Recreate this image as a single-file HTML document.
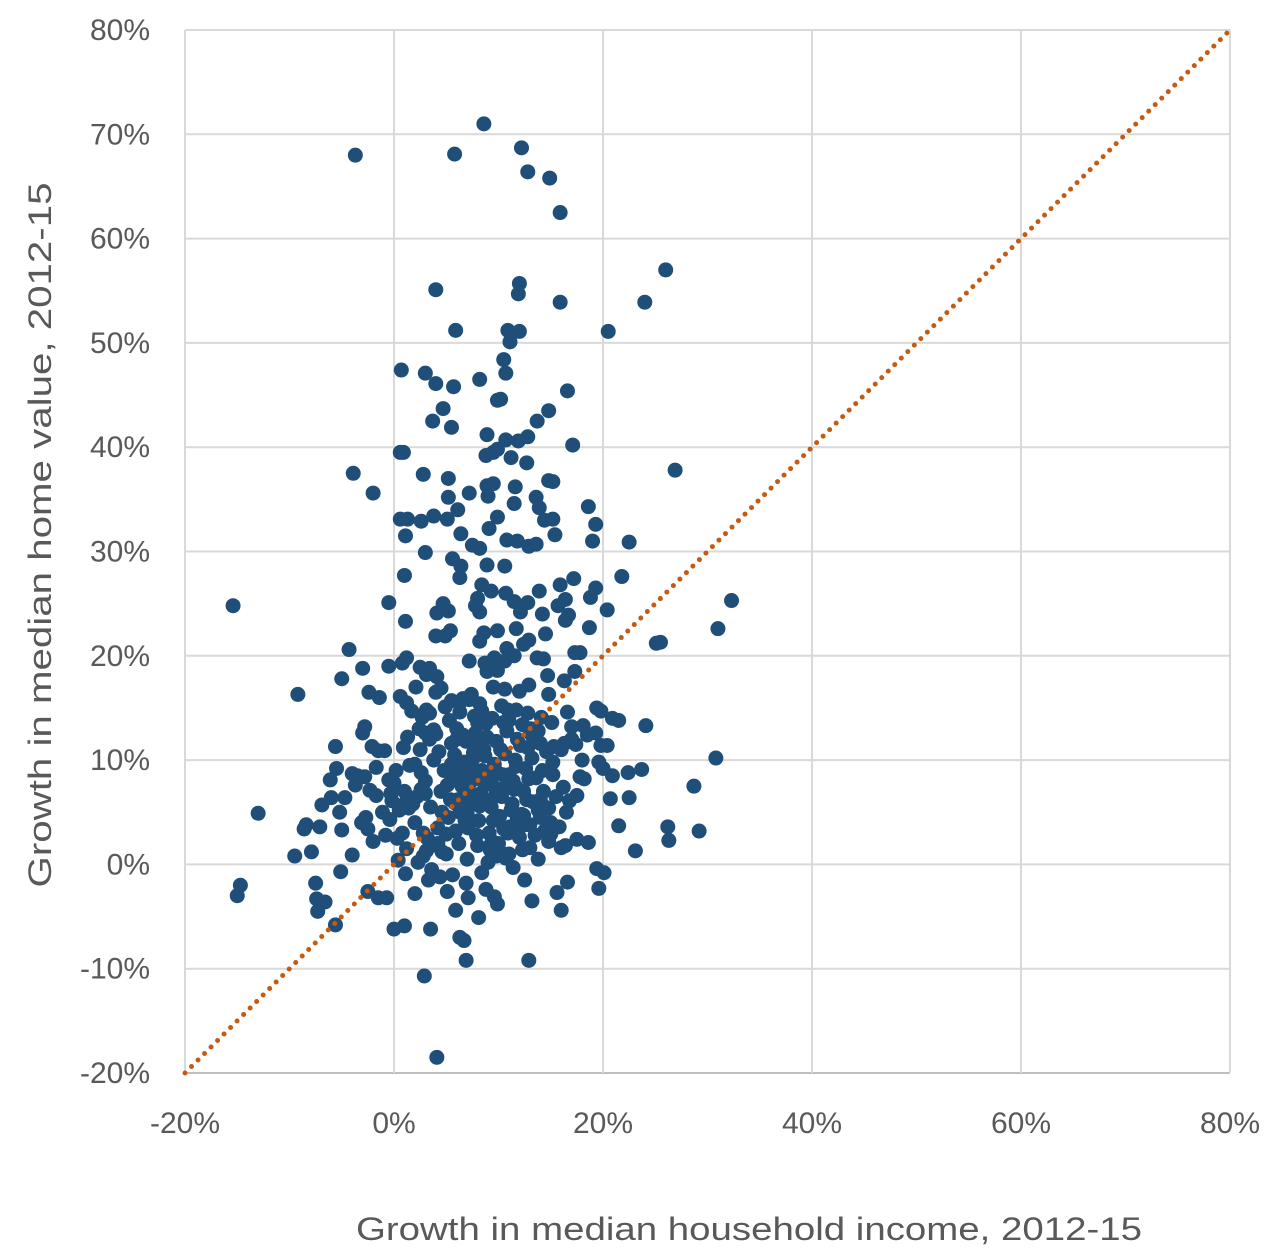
<!DOCTYPE html>
<html><head><meta charset="utf-8">
<style>
html,body{margin:0;padding:0;background:#fff;}
svg{display:block;font-family:"Liberation Sans",sans-serif;}
</style></head>
<body>
<svg id="chart" width="1273" height="1249" viewBox="0 0 1273 1249" xmlns="http://www.w3.org/2000/svg">
<g id="grid"></g>
<g id="ticks"></g>
<g id="pts"></g>
<g id="diag"></g>
<text x="749" y="1240" text-anchor="middle" font-size="32" fill="#595959" textLength="786" lengthAdjust="spacingAndGlyphs">Growth in median household income, 2012-15</text>
<text transform="translate(51,535) rotate(-90)" text-anchor="middle" font-size="32" fill="#595959" textLength="705" lengthAdjust="spacingAndGlyphs">Growth in median home value, 2012-15</text>
</svg>
<script>
const xTicks=[-20,0,20,40,60,80];
const yTicks=[-20,-10,0,10,20,30,40,50,60,70,80];
const xVals=[-3.7,5.8,8.6,12.2,12.8,14.9,15.9,26.0,12.0,11.9,4.0,15.9,24.0,20.5,5.9,10.9,12.0,11.1,10.5,0.7,3.0,10.7,8.2,4.0,5.7,16.6,9.9,10.2,4.7,14.8,3.7,5.5,13.7,8.9,12.8,10.7,11.9,17.1,9.9,0.6,0.9,8.8,9.5,11.2,12.7,26.9,-3.9,2.8,5.2,14.8,15.2,8.9,9.5,11.6,-2.0,5.2,7.2,9.0,13.6,11.5,13.9,18.6,6.1,1.3,0.6,2.6,3.8,5.1,9.9,14.4,15.2,19.3,1.1,6.4,9.1,10.8,11.8,13.6,15.4,22.5,3.0,7.5,8.2,12.9,19.0,5.6,6.4,8.9,10.6,1.0,6.3,21.8,8.4,9.3,10.7,17.2,15.9,19.3,13.9,16.4,8.0,12.8,15.7,18.8,20.4,-0.5,4.7,7.8,11.5,32.3,-15.4,16.4,8.2,5.2,4.1,14.2,16.7,12.1,1.1,11.7,18.7,31.0,5.4,8.6,9.9,14.5,4.0,25.5,25.1,4.9,8.2,10.8,12.4,12.9,-4.3,1.2,7.2,8.7,9.6,10.6,11.5,13.7,17.3,17.8,14.3,-3.0,-0.5,0.8,2.5,3.4,3.1,4.1,8.9,9.9,14.7,17.3,16.3,-9.2,-5.0,-2.4,-1.4,0.6,2.1,4.0,4.5,7.4,7.2,6.6,5.5,9.5,10.6,12.0,12.9,14.8,1.2,1.7,3.4,2.7,4.9,6.3,8.4,19.4,19.8,10.9,11.7,12.8,14.1,15.1,16.6,20.9,24.1,17.0,18.1,19.3,-2.8,-3.0,13.8,
-13.0,-14.7,-15.0,-9.5,-7.9,-8.4,-8.6,-7.1,-7.5,-7.4,-7.3,-6.6,-5.6,-5.1,-4.0,-1.5,-2.5,0,1.0,-0.7,3.5,2.9,4.1,6.7,6.3,6.9,12.9,8.1,9.6,9.9,8.8,12.5,13.2,15.6,16.0,16.6,19.4,19.6,20.1,18.6,21.5,22.5,23.7,22.4,26.2,26.3,28.7,29.2,30.8,16.4,14.8,14.0,15.0,16.8,17.8,18.2,20.0,19.6,20.7,20.9,20.4,23.1,5.9,4.4,5.1,7.1,2.0,1.1,0.4,2.3,3.1,3.3,2.8,-2.7,-2.0,-5.0,-5.2,-4.7,-5.6,-5.5,-6.1,-6.9,-6.0,-3.7,-4.0,-1.7,-3.5,-2.3,-1.5,-0.9,-2.1,-0.5,-0.2,-0.3,-1.1,-2.5,-3.1,
0.5,1.0,1.5,2.0,2.2,2.5,3.0,3.2,3.5,3.8,4.0,4.2,4.5,4.8,5.0,5.2,5.4,5.6,5.8,6.0,6.2,6.3,6.5,6.7,6.9,7.0,7.1,7.3,7.4,7.6,7.8,8.0,8.1,8.3,8.4,8.6,8.8,9.0,9.1,9.3,9.4,9.6,9.8,10.0,10.1,10.3,10.4,10.6,10.8,11.0,11.1,11.3,11.4,11.6,11.8,12.0,12.2,12.4,12.6,12.8,13.0,13.3,13.6,14.0,14.3,14.6,15.0,15.5,16.0,16.5,17.0,
0.8,1.8,2.6,3.4,4.1,4.6,5.1,5.5,5.9,6.1,6.4,6.6,6.8,7.2,7.5,7.7,7.9,8.2,8.5,8.7,8.9,9.2,9.5,9.7,9.9,10.2,10.5,10.7,10.9,11.2,11.5,11.7,12.1,12.3,12.5,12.7,12.9,13.2,13.5,13.8,14.2,14.8,15.2,15.8,16.2,17.5,18.0,1.2,2.8,3.6,5.6,6.9,8.4,9.8,11.4,13.8,14.4,0.2,1.3,2.4,3.1,5.3,6.3,8.2,9.4,10.3,11.0,12.3,13.2,14.0,15.3,16.3,17.4,18.5,19.8,21.5,-0.8,0.3,-0.4,0.9,-1.7,-2.8,0.0,1.0,
2.0,3.0,4.3,5.0,6.0,7.0,8.0,9.0,10.0,11.0,12.0,13.0,4.6,5.8,7.0,8.3,9.4,10.6,11.8,13.1,6.3,7.6,8.8,10.0,11.2,12.4,3.0,4.2,5.5,6.7,8.0,9.2,10.5,11.7,13.0,14.3,1.4,2.6,3.8,15.2,16.0,17.5];
const yVals=[68.0,68.1,71.0,68.7,66.4,65.8,62.5,57.0,55.7,54.7,55.1,53.9,53.9,51.1,51.2,51.2,51.1,50.1,48.4,47.4,47.1,47.1,46.5,46.1,45.8,45.4,44.5,44.6,43.7,43.5,42.5,41.9,42.5,41.2,41.0,40.7,40.6,40.2,39.8,39.5,39.5,39.2,39.5,39.0,38.5,37.8,37.5,37.4,37.0,36.8,36.7,36.3,36.5,36.2,35.6,35.2,35.6,35.3,35.2,34.6,34.2,34.3,34.0,33.1,33.1,32.9,33.4,33.1,33.3,33.0,33.1,32.6,31.5,31.7,32.2,31.1,31.0,30.7,31.6,30.9,29.9,30.6,30.3,30.5,31.0,29.3,28.6,28.7,28.6,27.7,27.5,27.6,26.8,26.2,26.0,27.4,26.8,26.5,26.2,25.4,25.5,25.1,24.8,25.6,24.4,25.1,25.0,24.8,25.2,25.3,24.8,23.4,24.2,24.3,24.1,24.0,23.9,24.2,23.3,22.6,22.7,22.6,22.4,22.2,22.4,22.1,21.9,21.3,21.2,21.9,21.4,20.7,21.1,21.5,20.6,19.8,19.5,19.3,19.8,19.5,20.0,19.8,20.3,20.3,19.7,18.8,19.0,19.3,18.9,18.8,18.2,18.0,18.5,18.6,18.1,18.5,17.6,16.3,17.8,16.5,16.0,16.1,17.0,16.5,16.9,16.3,15.8,15.9,15.7,17.0,16.8,16.6,17.2,16.3,15.5,14.7,14.5,14.1,15.1,15.5,14.7,15.0,14.7,14.8,14.8,14.5,14.1,13.6,14.6,14.0,13.3,13.2,13.3,12.6,13.2,12.6,12.8,
4.9,-2.0,-3.0,0.8,1.2,3.8,3.4,3.6,-1.8,-3.3,-4.5,-3.6,-5.8,-0.7,0.9,-3.2,-2.6,-6.2,-5.9,-3.2,-6.2,-10.7,-18.5,-7.3,-7.0,-9.2,-9.2,-5.1,-3.1,-3.8,-2.4,-1.5,-3.5,-2.7,-4.4,-1.7,-0.4,-2.3,-0.8,2.1,3.7,6.4,9.1,8.8,3.6,2.3,7.5,3.2,10.2,1.8,5.4,6.2,2.9,6.1,8.4,8.2,9.2,9.8,6.3,8.5,11.4,1.3,-4.4,-1.2,-2.6,-3.2,-2.8,-0.9,0.4,0.2,1.3,-1.5,3.0,4.5,2.2,3.3,5.0,6.4,11.3,9.2,8.1,5.7,6.4,7.6,8.7,9.3,8.5,7.1,10.9,10.9,11.3,8.1,6.1,6.8,5.0,3.4,4.0,
5.2,7.0,9.5,4.0,6.5,11.0,8.0,2.5,5.5,10.0,12.5,3.5,7.0,9.0,1.0,4.5,6.2,8.4,10.5,13.0,2.0,5.0,7.5,9.8,11.8,0.5,3.5,6.0,8.0,10.2,12.6,1.8,4.2,6.8,9.0,11.0,13.5,0.2,3.0,5.5,7.6,9.6,11.8,2.0,4.6,6.5,8.6,10.6,12.8,1.0,3.6,5.8,8.0,10.0,12.0,2.6,4.8,7.0,9.2,11.2,3.8,6.0,8.3,4.5,7.0,10.8,4.0,6.5,11.0,5.0,12.0,
3.0,5.8,8.8,12.0,1.8,5.0,7.6,11.6,3.2,6.2,8.8,12.4,4.2,7.0,9.2,14.2,2.8,5.6,8.0,10.4,12.2,1.4,4.2,6.6,8.8,11.0,13.6,0.6,3.0,5.2,7.2,9.4,11.4,1.4,3.8,6.2,8.2,10.2,2.8,5.2,9.0,2.2,8.6,3.6,7.4,6.6,10.0,1.5,0.8,-0.5,-1.0,-1.8,-0.8,0.8,-0.3,0.5,3.2,9.0,12.2,13.0,14.8,13.8,14.6,15.4,14.0,15.2,13.8,13.4,12.4,11.6,11.3,11.6,11.5,12.4,11.4,13.8,2.8,2.5,4.3,11.2,6.6,8.4,7.8,5.8,
9.6,6.8,10.8,2.9,12.0,4.9,13.6,6.1,1.5,8.6,3.9,12.9,1.2,5.9,9.8,11.9,2.2,7.4,4.4,13.0,5.4,10.7,8.6,1.3,3.6,4.7,12.6,2.0,9.6,7.8,11.6,1.8,3.4,7.4,1.6,5.6,5.4,7.2,12.9,9.8,1.6,2.4];

const X0=185,X1=1230,Y0=1073,Y1=30;
function sx(v){return X0+(v+20)/100*(X1-X0);}
function sy(v){return Y0-(v+20)/100*(Y0-Y1);}
const NS="http://www.w3.org/2000/svg";
function mk(tag,attrs,parent){const e=document.createElementNS(NS,tag);for(const k in attrs)e.setAttribute(k,attrs[k]);parent.appendChild(e);return e;}
const grid=document.getElementById('grid'),ticks=document.getElementById('ticks');
yTicks.forEach(t=>{
  const y=sy(t);
  const l=mk('line',{x1:X0,x2:X1,y1:y,y2:y,stroke:t===-20?'#bfbfbf':'#d9d9d9','stroke-width':2},grid);
  
  
  const tx=mk('text',{x:150,y:y+10,'text-anchor':'end','font-size':30,fill:'#595959'},ticks);
  tx.textContent=t+'%';
  
  
});
xTicks.forEach(t=>{
  const x=sx(t);
  const l=mk('line',{x1:x,x2:x,y1:Y1,y2:Y0,stroke:'#d9d9d9','stroke-width':2},grid);
  
  
  const tx=mk('text',{x:x,y:1133,'text-anchor':'middle','font-size':30,fill:'#595959'},ticks);
  tx.textContent=t+'%';
  
  
});
const pts=document.getElementById('pts');
const n=Math.min(xVals.length,yVals.length);
for(let i=0;i<n;i++){
  const c=mk('circle',{cx:sx(xVals[i]),cy:sy(yVals[i]),r:7.5,fill:'#1f4e79'},pts);
  
  
}
const diag=document.getElementById('diag');
const dl=mk('line',{x1:sx(-20),y1:sy(-20),x2:sx(80),y2:sy(80),stroke:'#c55a11','stroke-width':5,'stroke-linecap':'round','stroke-dasharray':'0 9.2'},diag);


</script>
</body></html>
